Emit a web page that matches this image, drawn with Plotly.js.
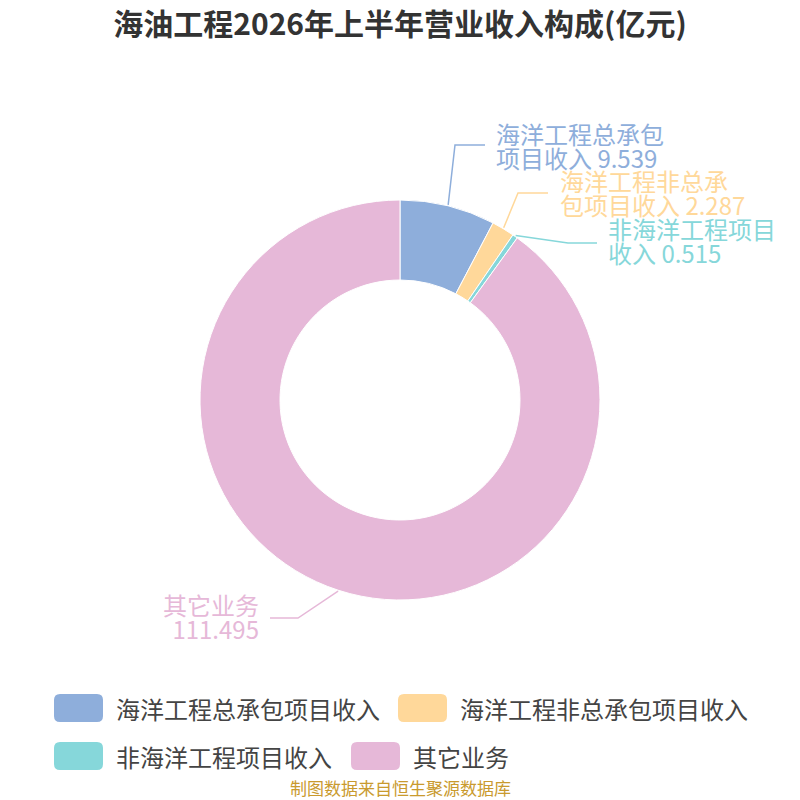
<!DOCTYPE html>
<html>
<head>
<meta charset="utf-8">
<script src="https://cdn.plot.ly/plotly-3.0.1.min.js"></script>
<style>
  html, body { margin: 0; padding: 0; background: #fff; }
  #chart { width: 800px; height: 800px; }
</style>
</head>
<body>
<div id="chart"></div>
<script>
const labels = ['海洋工程总承包项目收入', '海洋工程非总承包项目收入', '非海洋工程项目收入', '其它业务'];
const values = [9.539, 2.287, 0.515, 111.495];
const colors = ['#8eaedb', '#ffd89a', '#86d7da', '#e6b8d8'];

const FONT = '"Noto Sans CJK SC", "Noto Sans", sans-serif';

// pixel -> paper (margins are 0, so paper == the whole 800x800 page)
const X = px => px / 800;
const Y = py => 1 - py / 800;

// where ECharts ended up putting each outside label (pixels)
const place = [
    { elbow: [455, 145], end: [485, 145], tx: 495, ty: 145, side: 'left' },
    { elbow: [518, 193], end: [548, 193], tx: 559, ty: 193, side: 'left' },
    { elbow: [568, 243], end: [597, 243], tx: 607, ty: 240, side: 'left' },
    { elbow: [298, 618], end: [270, 618], tx: 260, ty: 616, side: 'right' }
];

// legend boxes, two per row
const legendPos = [
    { x: 54, y: 708, tx: 114 },
    { x: 398, y: 708, tx: 458 },
    { x: 54, y: 756, tx: 114 },
    { x: 351, y: 756, tx: 411 }
];

const cx = 400, cy = 400, R = 200;
const total = values.reduce((a, b) => a + b, 0);

function wrap(name, value) {
    if (name.length > 7) return [name.slice(0, 7), name.slice(7) + ' ' + value];
    return [name, String(value)];
}

function roundRect(x0, y0, x1, y1, r) {
    const p = (x, y) => X(x) + ',' + Y(y);
    return 'M' + p(x0 + r, y0) + ' L' + p(x1 - r, y0) +
        ' Q' + p(x1, y0) + ' ' + p(x1, y0 + r) +
        ' L' + p(x1, y1 - r) + ' Q' + p(x1, y1) + ' ' + p(x1 - r, y1) +
        ' L' + p(x0 + r, y1) + ' Q' + p(x0, y1) + ' ' + p(x0, y1 - r) +
        ' L' + p(x0, y0 + r) + ' Q' + p(x0, y0) + ' ' + p(x0 + r, y0) + ' Z';
}

const shapes = [];
const annotations = [];

let cum = 0;
for (let i = 0; i < values.length; ++i) {
    const a = (cum + values[i] / 2) / total * 2 * Math.PI;
    cum += values[i];
    const ax = cx + (R + 1) * Math.sin(a);
    const ay = cy - (R + 1) * Math.cos(a);
    const pl = place[i];

    shapes.push({
        type: 'path', xref: 'paper', yref: 'paper',
        path: 'M' + X(ax) + ',' + Y(ay) + ' L' + X(pl.elbow[0]) + ',' + Y(pl.elbow[1]) +
            ' L' + X(pl.end[0]) + ',' + Y(pl.end[1]),
        line: { color: colors[i], width: 1.5 }
    });

    // base size 18 keeps the line step at ~24px, the spans draw the glyphs at 24px
    const lines = wrap(labels[i], values[i]).map(t => '<span style="font-size:24px">' + t + '</span>');
    annotations.push({
        xref: 'paper', yref: 'paper', x: X(pl.tx), y: Y(pl.ty),
        xanchor: pl.side, yanchor: 'middle', align: pl.side, showarrow: false,
        borderpad: 0,
        text: lines.join('<br>'), font: { family: FONT, size: 18.5, color: colors[i] }
    });
}

// legend
legendPos.forEach((p, i) => {
    shapes.push({
        type: 'path', xref: 'paper', yref: 'paper',
        path: roundRect(p.x, p.y - 14, p.x + 49, p.y + 14, 6),
        fillcolor: colors[i], line: { color: colors[i], width: 0 }
    });
    annotations.push({
        xref: 'paper', yref: 'paper', x: X(p.tx), y: Y(p.y),
        xanchor: 'left', yanchor: 'middle', showarrow: false,
        text: labels[i], font: { family: FONT, size: 24, color: '#444' }
    });
});

annotations.push({
    xref: 'paper', yref: 'paper', x: 0.5, y: Y(787),
    xanchor: 'center', yanchor: 'middle', showarrow: false, borderpad: 0,
    text: '制图数据来自恒生聚源数据库',
    font: { family: FONT, size: 17, color: '#c99a2e' }
});

const trace = {
    type: 'pie',
    labels,
    values,
    sort: false,
    direction: 'clockwise',
    rotation: 0,
    hole: 0.6,
    textinfo: 'none',
    hoverinfo: 'none',
    marker: { colors, line: { color: '#fff', width: 1 } },
    domain: { x: [0.25, 0.75], y: [0.25, 0.75] }
};

const layout = {
    width: 800,
    height: 800,
    margin: { l: 0, r: 0, t: 0, b: 0 },
    paper_bgcolor: '#fff',
    showlegend: false,
    title: {
        text: '海油工程2026年上半年营业收入构成(亿元)',
        x: 0.5, xanchor: 'center',
        y: 1 - 24 / 800, yref: 'container', yanchor: 'middle',
        font: { family: FONT, size: 30, color: '#333', weight: 'bold' }
    },
    shapes,
    annotations
};

Plotly.newPlot('chart', [trace], layout, { displayModeBar: false, staticPlot: true });
</script>
</body>
</html>
